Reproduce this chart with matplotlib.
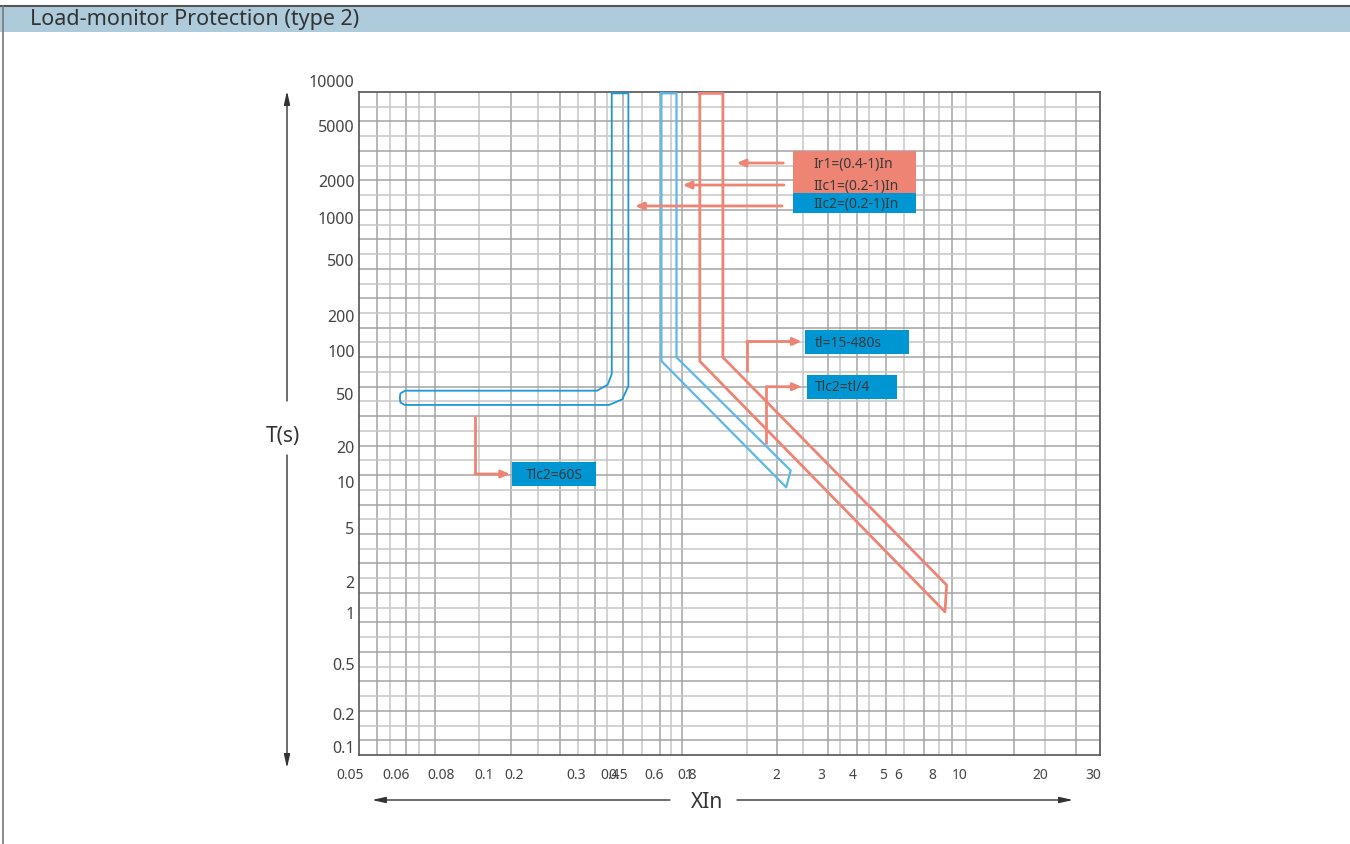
import numpy as np
import matplotlib
matplotlib.use("Agg")
import matplotlib.pyplot as plt
from matplotlib.lines import Line2D
from matplotlib.patches import Rectangle
from matplotlib.ticker import NullLocator

plt.rcParams["font.family"] = ["Noto Sans", "DejaVu Sans"]

# ---------------------------------------------------------------------------
# Chart data: current in multiples of In, time in seconds
# ---------------------------------------------------------------------------
X_TICKS = [0.05, 0.06, 0.08, 0.1, 0.2, 0.3, 0.4, 0.5, 0.6, 0.8,
           1, 2, 3, 4, 5, 6, 8, 10, 20, 30]
X_TICK_LABELS = ["0.05", "0.06", "0.08", "0.1", "0.2", "0.3", "0.4", "0.5",
                 "0.6", "0.8", "1", "2", "3", "4", "5", "6", "8", "10", "20", "30"]
Y_TICKS = [10000, 5000, 2000, 1000, 500, 200, 100, 50, 20, 10, 5, 2, 1, 0.5, 0.2, 0.1]
Y_TICK_LABELS = ["10000", "5000", "2000", "1000", "500", "200", "100", "50",
                 "20", "10", "5", "2", "1", "0.5", "0.2", "0.1"]

# Ir1 band (long-time delay), closed outline
IR1_X = [1.09, 1.09, 8.87, 8.99, 1.31, 1.31, 1.09]
IR1_T = [8400, 86.1, 1.05, 1.91, 91.8, 8400, 8400]

# IIc1 band
IIC1_X = [0.64, 0.64, 2.19, 2.28, 0.73, 0.73, 0.64]
IIC1_T = [8400, 86.5, 9.37, 12.8, 91.8, 8400, 8400]

# IIc2 band with fixed 60 s delay, rounded corners
IIC2_X = [0.42, 0.42, 0.392, 0.358, 0.0635, 0.0617, 0.0615, 0.0617, 0.0635,
          0.397, 0.511, 0.527, 0.527, 0.42]
IIC2_T = [8400, 70, 59, 53.6, 53.6, 51.2, 47.5, 44.0, 42.1,
          42.1, 46.4, 57.8, 8400, 8400]

# ---------------------------------------------------------------------------
# Layout (canvas pixels on a 1350 x 845 sheet)
# ---------------------------------------------------------------------------
W, H = 1350, 845
AX_L, AX_R, AX_T, AX_B = 359, 1100, 93, 756

# the printed scale is not a clean log grid: tick values sit at these pixels
X_TICK_POS = [350.5, 396, 441, 484, 514, 576, 610, 618, 654, 687,
              689, 776, 821.5, 853, 883, 898.5, 932, 960, 1040, 1093]
Y_TICK_POS = [83, 128, 183, 220, 262, 318, 353, 396, 449, 484,
              530, 584, 615, 666, 716, 749]

# paper grid (fractions of the plot box)
V_GRID = [0.0243, 0.0418, 0.0634, 0.0810, 0.1026, 0.1619, 0.2051, 0.2416,
          0.2713, 0.2955, 0.3185, 0.3347, 0.3563, 0.3819, 0.4062, 0.4211,
          0.4359, 0.5236, 0.5641, 0.5992, 0.6329, 0.6491, 0.6721, 0.6883,
          0.7112, 0.7355, 0.7625, 0.7827, 0.8003, 0.8192, 0.8839, 0.9258, 0.9676]
H_GRID = np.linspace(0, 1, 46)[1:-1]

SALMON = "#EE8474"
BLUE_BOX = "#0096D4"
BLUE_DARK = "#1C98D6"
BLUE_LIGHT = "#5BB8E8"
TXT = "#3a3a3a"


def piecewise(xp, fp):
    xp = np.asarray(xp, float)
    fp = np.asarray(fp, float)

    def f(x):
        x = np.asarray(x, float)
        y = np.interp(x, xp, fp)
        lo = fp[0] + (x - xp[0]) * (fp[1] - fp[0]) / (xp[1] - xp[0])
        hi = fp[-1] + (x - xp[-1]) * (fp[-1] - fp[-2]) / (xp[-1] - xp[-2])
        return np.where(x < xp[0], lo, np.where(x > xp[-1], hi, y))
    return f


def chart_scale(values, pos):
    lv = np.log10(np.asarray(values, float))
    order = np.argsort(lv)
    lv, pos = lv[order], np.asarray(pos, float)[order]
    to_pos = piecewise(lv, pos)
    to_log = piecewise(pos, lv)
    fwd = lambda v: to_pos(np.log10(np.clip(np.asarray(v, float), 1e-9, None)))
    inv = lambda p: 10 ** to_log(p)
    return fwd, inv


x_fwd, x_inv = chart_scale(X_TICKS, X_TICK_POS)
# y grows upward, so work with negative pixel rows
y_fwd, y_inv = chart_scale(Y_TICKS, [-p for p in Y_TICK_POS])

fig = plt.figure(figsize=(W / 100, H / 100), dpi=100)
fig.patch.set_facecolor("white")

# header bar
fig.add_artist(Rectangle((0, 1 - 33 / H), 1, 26 / H, transform=fig.transFigure,
                         facecolor="#AECBDB", edgecolor="none"))
fig.add_artist(Line2D([0, 1], [1 - 7 / H] * 2, transform=fig.transFigure,
                      color="#555555", lw=1.5))
fig.add_artist(Line2D([3 / W] * 2, [0, 1 - 7 / H], transform=fig.transFigure,
                      color="#777777", lw=1.2))
fig.text(30 / W, 1 - 20 / H, "Load-monitor Protection (type 2)", fontsize=15.5,
         color="#333333", va="center", ha="left")

ax = fig.add_axes([AX_L / W, 1 - AX_B / H, (AX_R - AX_L) / W, (AX_B - AX_T) / H])
ax.set_xscale("function", functions=(x_fwd, x_inv))
ax.set_yscale("function", functions=(y_fwd, y_inv))
ax.set_xlim(x_inv(AX_L), x_inv(AX_R))
ax.set_ylim(y_inv(-AX_B), y_inv(-AX_T))
for axis in (ax.xaxis, ax.yaxis):
    axis.set_major_locator(NullLocator())
    axis.set_minor_locator(NullLocator())
for sp in ax.spines.values():
    sp.set_color("#555555")
    sp.set_linewidth(1.2)

# paper grid
for i, f in enumerate(V_GRID):
    ax.vlines(f, 0, 1, transform=ax.transAxes, lw=1.1, zorder=0.5,
              color="#a4a4a4" if i % 2 == 0 else "#c6c6c6")
for i, f in enumerate(H_GRID):
    ax.hlines(f, 0, 1, transform=ax.transAxes, lw=1.1, zorder=0.5,
              color="#a4a4a4" if i % 2 == 0 else "#c6c6c6")

# tick labels (0.4/0.5 and 0.8/1 sit on top of each other on this sheet)
for v, lab in zip(X_TICKS, X_TICK_LABELS):
    ax.text(v, -0.0287, lab, transform=ax.get_xaxis_transform(), ha="center",
            va="center", fontsize=10, color="#444444", clip_on=False)
for v, lab in zip(Y_TICKS, Y_TICK_LABELS):
    ax.text(-0.006, v, lab, transform=ax.get_yaxis_transform(), ha="right",
            va="center", fontsize=11.5, color="#444444", clip_on=False)

# protection bands
ax.plot(IIC2_X, IIC2_T, color=BLUE_DARK, lw=1.3, zorder=3)
ax.plot(IIC1_X, IIC1_T, color=BLUE_LIGHT, lw=1.6, zorder=3)
ax.plot(IR1_X, IR1_T, color=SALMON, lw=2.0, zorder=3)

# callout boxes (axes fractions)
boxes = [
    ((0.5861, 0.8789), 0.1652, 0.0326, SALMON, "Ir1=(0.4-1)In", (0.6127, 0.8929)),
    ((0.5861, 0.8462), 0.1652, 0.0327, SALMON, "IIc1=(0.2-1)In", (0.6127, 0.8597)),
    ((0.5861, 0.8176), 0.1652, 0.0302, BLUE_BOX, "IIc2=(0.2-1)In", (0.6127, 0.8311)),
    ((0.6019, 0.6053), 0.1404, 0.0357, BLUE_BOX, "tl=15-480s", (0.6154, 0.6229)),
    ((0.6046, 0.5370), 0.1211, 0.0362, BLUE_BOX, "Tlc2=tl/4", (0.6154, 0.5551)),
    ((0.2065, 0.4057), 0.1130, 0.0367, BLUE_BOX, "Tlc2=60S", (0.2250, 0.4238)),
]
for xy, w, h, fc, lab, txy in boxes:
    ax.add_patch(Rectangle(xy, w, h, transform=ax.transAxes, facecolor=fc,
                           edgecolor="none", zorder=4, clip_on=False))
    ax.text(*txy, lab, transform=ax.transAxes, ha="left", va="center",
            fontsize=10, color=TXT, zorder=5)

arrow_kw = dict(arrowstyle="-|>,head_length=0.5,head_width=0.22",
                color=SALMON, lw=2, shrinkA=0, shrinkB=0)
# straight arrows to the band settings
for x0, x1, y in [(0.5726, 0.5097, 0.8929), (0.5735, 0.4368, 0.8597),
                  (0.5709, 0.3725, 0.8281)]:
    ax.annotate("", xy=(x1, y), xytext=(x0, y), xycoords="axes fraction",
                arrowprops=arrow_kw, zorder=4)
# elbow arrows to the delay settings
for (x0, y0), (xc, yc), (x1, y1) in [
        ((0.5232, 0.5772), (0.5232, 0.6237), (0.5974, 0.6237)),
        ((0.5493, 0.4691), (0.5493, 0.5555), (0.5974, 0.5555)),
        ((0.1565, 0.5109), (0.1565, 0.4238), (0.2038, 0.4238))]:
    ax.plot([x0, xc], [y0, yc], transform=ax.transAxes, color=SALMON, lw=2,
            solid_capstyle="butt", zorder=4)
    ax.annotate("", xy=(x1, y1), xytext=(xc, yc), xycoords="axes fraction",
                arrowprops=arrow_kw, zorder=4)

# axis titles with arrows
axis_arrow = dict(arrowstyle="-|>,head_length=0.8,head_width=0.18",
                  color="#333333", lw=1.0, shrinkA=0, shrinkB=0)
for (x0, y0), (x1, y1) in [((287, 402), (287, 92)), ((287, 456), (287, 769)),
                           ((670, 801), (372, 801)), ((737, 801), (1073, 801))]:
    fig.add_artist(plt.Annotation("", xy=(x1 / W, 1 - y1 / H), xycoords="figure fraction",
                                  xytext=(x0 / W, 1 - y0 / H), textcoords="figure fraction",
                                  arrowprops=axis_arrow))
fig.text(283 / W, 1 - 437 / H, "T(s)", fontsize=15, color="#333333",
         ha="center", va="center")
fig.text(707 / W, 1 - 803 / H, "XIn", fontsize=15, color="#333333",
         ha="center", va="center")

fig.savefig("out.png", dpi=100)
